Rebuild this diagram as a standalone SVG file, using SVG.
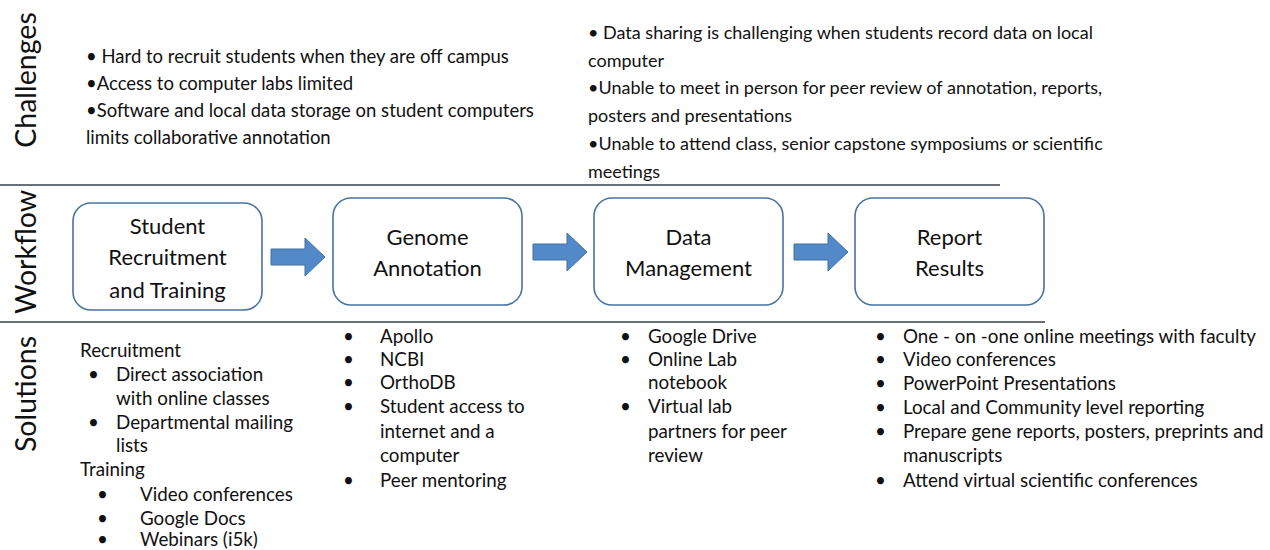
<svg xmlns="http://www.w3.org/2000/svg" width="1270" height="550" viewBox="0 0 1270 550">
<style>
text{font-family:Lato,"Open Sans","Liberation Sans",sans-serif;fill:#111}
.t{font-size:18.8px}
.cl{font-size:18.5px}
.cr{font-size:18px}
.lbl{font-size:28.5px}
.node{font-size:22px;text-anchor:middle}
.box{fill:#fff;stroke:#4a73a0;stroke-width:1.6}
.sep{stroke:#3a3f4a;stroke-width:1.6}
.arr{fill:#5289c8;stroke:#41719c;stroke-width:1}
</style>
<rect width="1270" height="550" fill="#fff"/>
<g id="section-labels">
<text class="lbl" transform="translate(36,80) rotate(-90)" text-anchor="middle">Challenges</text>
<text class="lbl" transform="translate(36,252) rotate(-90)" text-anchor="middle">Workflow</text>
<text class="lbl" transform="translate(36,394) rotate(-90)" text-anchor="middle">Solutions</text>
</g>
<g id="separators">
<line class="sep" x1="0" y1="185" x2="1000" y2="185"/>
<line class="sep" x1="0" y1="322" x2="1045" y2="322"/>
</g>
<g id="challenges-left" class="cl">
<text x="86" y="63">• Hard to recruit students when they are off campus</text>
<text x="86" y="90">•Access to computer labs limited</text>
<text x="86" y="117">•Software and local data storage on student computers</text>
<text x="86" y="144">limits collaborative annotation</text>
</g>
<g id="challenges-right" class="cr">
<text x="588" y="39">• Data sharing is challenging when students record data on local</text>
<text x="588" y="67">computer</text>
<text x="588" y="94">•Unable to meet in person for peer review of annotation, reports,</text>
<text x="588" y="122">posters and presentations</text>
<text x="588" y="150">•Unable to attend class, senior capstone symposiums or scientific</text>
<text x="588" y="178">meetings</text>
</g>
<g id="node-recruitment">
<rect class="box" x="73" y="203" width="189" height="107" rx="18"/>
<text class="node" x="167.5" y="234">Student</text>
<text class="node" x="167.5" y="265">Recruitment</text>
<text class="node" x="167.5" y="298">and Training</text>
</g>
<g id="node-annotation">
<rect class="box" x="333" y="198" width="189" height="107" rx="18"/>
<text class="node" x="427.5" y="245">Genome</text>
<text class="node" x="427.5" y="276">Annotation</text>
</g>
<g id="node-data">
<rect class="box" x="594" y="198" width="189" height="107" rx="18"/>
<text class="node" x="688.5" y="245">Data</text>
<text class="node" x="688.5" y="276">Management</text>
</g>
<g id="node-report">
<rect class="box" x="855" y="198" width="189" height="107" rx="18"/>
<text class="node" x="949.5" y="245">Report</text>
<text class="node" x="949.5" y="276">Results</text>
</g>
<g id="connectors">
<path class="arr" d="M271,249 H305 V238 L325,257 L305,276 V265 H271 Z"/>
<path class="arr" d="M533,244 H567 V233 L587,252 L567,271 V260 H533 Z"/>
<path class="arr" d="M794,244 H828 V233 L848,252 L828,271 V260 H794 Z"/>
</g>
<g id="solutions-recruitment" class="t">
<text x="80" y="357">Recruitment</text>
<text x="88" y="381">•</text><text x="116" y="381">Direct association</text>
<text x="116" y="405">with online classes</text>
<text x="88" y="429">•</text><text x="116" y="429">Departmental mailing</text>
<text x="116" y="452">lists</text>
<text x="80" y="476">Training</text>
<text x="97" y="501">•</text><text x="140" y="501">Video conferences</text>
<text x="97" y="525">•</text><text x="140" y="525">Google Docs</text>
<text x="97" y="546">•</text><text x="140" y="546">Webinars (i5k)</text>
</g>
<g id="solutions-annotation" class="t">
<text x="343" y="343">•</text><text x="380" y="343">Apollo</text>
<text x="343" y="366">•</text><text x="380" y="366">NCBI</text>
<text x="343" y="389">•</text><text x="380" y="389">OrthoDB</text>
<text x="343" y="413">•</text><text x="380" y="413">Student access to</text>
<text x="380" y="438">internet and a</text>
<text x="380" y="462">computer</text>
<text x="343" y="487">•</text><text x="380" y="487">Peer mentoring</text>
</g>
<g id="solutions-data" class="t">
<text x="620" y="343">•</text><text x="648" y="343">Google Drive</text>
<text x="620" y="366">•</text><text x="648" y="366">Online Lab</text>
<text x="648" y="389">notebook</text>
<text x="620" y="413">•</text><text x="648" y="413">Virtual lab</text>
<text x="648" y="438">partners for peer</text>
<text x="648" y="462">review</text>
</g>
<g id="solutions-report" class="t">
<text x="875" y="343">•</text><text x="903" y="343">One - on -one online meetings with faculty</text>
<text x="875" y="366">•</text><text x="903" y="366">Video conferences</text>
<text x="875" y="390">•</text><text x="903" y="390">PowerPoint Presentations</text>
<text x="875" y="414">•</text><text x="903" y="414">Local and Community level reporting</text>
<text x="875" y="438">•</text><text x="903" y="438">Prepare gene reports, posters, preprints and</text>
<text x="903" y="462">manuscripts</text>
<text x="875" y="487">•</text><text x="903" y="487">Attend virtual scientific conferences</text>
</g>
</svg>
